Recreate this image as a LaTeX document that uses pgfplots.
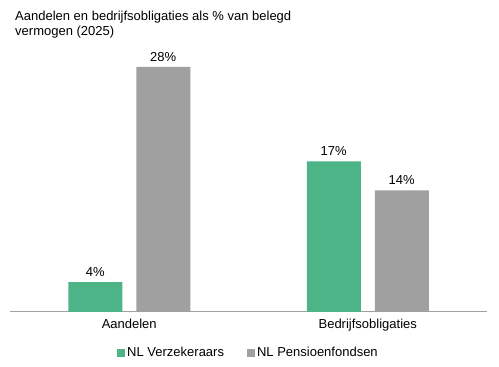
\documentclass[border=0pt]{standalone}
\usepackage{fontspec}
\setmainfont{Liberation Sans}
\usepackage{pgfplots}
\pgfplotsset{compat=1.18}
\definecolor{vgreen}{HTML}{4DB487}
\definecolor{pgrey}{HTML}{A0A0A0}
\definecolor{axgrey}{HTML}{A0A0A0}
\begin{document}
\fontsize{13}{15}\selectfont
\begin{tikzpicture}
\path[use as bounding box] (0,0) rectangle (499pt,367pt);
\begin{axis}[
  at={(10pt,55pt)}, anchor=south west,
  scale only axis, width=477pt, height=252pt,
  ybar, bar width=54pt,
  xmin=-0.5, xmax=1.5, ymin=0, ymax=28.8,
  axis y line=none, axis x line*=bottom,
  x axis line style={axgrey, line width=1pt, -},
  xtick={0,1}, xticklabels={Aandelen,Bedrijfsobligaties},
  major tick length=0pt,
  xticklabel style={font=\fontsize{13}{15}\selectfont, yshift=-3pt},
  /pgf/number format/assume math mode=true,
  nodes near coords={\pgfmathprintnumber[fixed,precision=0,assume math mode=true]{\pgfplotspointmeta}\%},
  point meta=explicit,
  every node near coord/.append style={font=\fontsize{13}{15}\selectfont, yshift=1pt},
  legend style={at={(0.5,-41pt)}, anchor=center, draw=none, legend columns=2,
    font=\fontsize{13}{15}\selectfont, /tikz/every even column/.append style={column sep=21pt}},
  legend image code/.code={\fill[#1] (0pt,-4pt) rectangle (8pt,4pt);},
]
\addplot[fill=vgreen, draw=none, bar shift=-34pt] coordinates {(0,3.4) [4] (1,17.2) [17]};
\addplot[fill=pgrey, draw=none, bar shift=34pt] coordinates {(0,28) [28] (1,13.9) [14]};
\legend{NL Verzekeraars, NL Pensioenfondsen}
\end{axis}
\node[anchor=north west, align=left, inner sep=0pt] at (15pt,356pt) {Aandelen en bedrijfsobligaties als \% van belegd\\vermogen (2025)};
\end{tikzpicture}
\end{document}
